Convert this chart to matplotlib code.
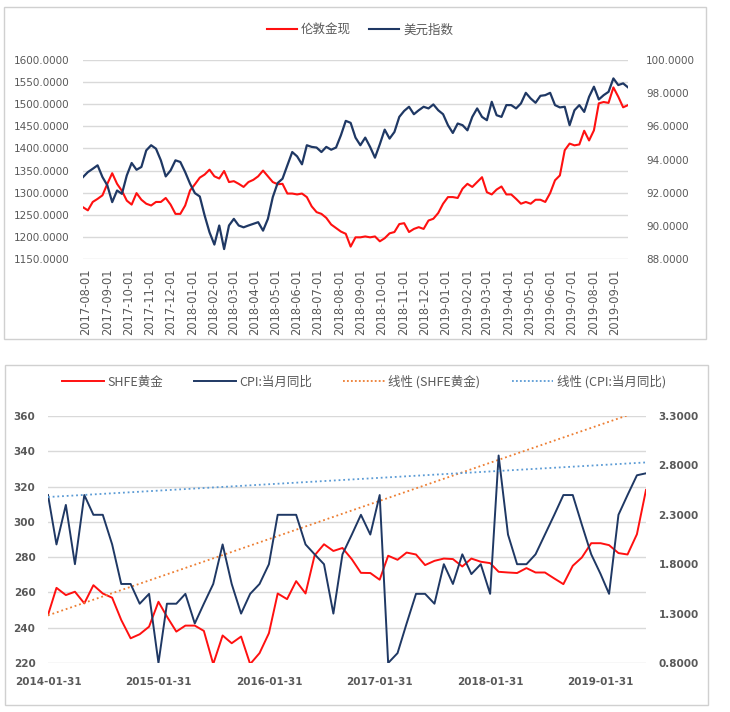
import matplotlib
matplotlib.use("Agg")
import matplotlib.pyplot as plt
from matplotlib.patches import Rectangle
from matplotlib.lines import Line2D
from matplotlib.ticker import FixedLocator, FuncFormatter
import pandas as pd

# ---------------- data: top chart (weekly readings) ----------------
top_start = "2017-07-28"
top_weeks = 113
gold_london = [1267, 1260, 1279, 1286, 1294, 1320, 1344, 1320, 1304, 1282,
               1273, 1299, 1284, 1275, 1271, 1279, 1279, 1288, 1273, 1252,
               1252, 1271, 1305, 1319, 1334, 1341, 1352, 1337, 1332, 1349,
               1324, 1326, 1320, 1313, 1324, 1329, 1337, 1350, 1337, 1324,
               1319, 1320, 1298, 1298, 1296, 1298, 1290, 1269, 1256, 1252,
               1243, 1228, 1220, 1212, 1207, 1178, 1199, 1199, 1201, 1199,
               1201, 1190, 1197, 1208, 1211, 1229, 1231, 1211, 1218, 1222,
               1218, 1237, 1241, 1254, 1275, 1290, 1290, 1288, 1309, 1320,
               1313, 1324, 1335, 1301, 1296, 1307, 1314, 1296, 1296, 1286,
               1275, 1279, 1275, 1284, 1284, 1279, 1299, 1328, 1339, 1396,
               1411, 1407, 1409, 1440, 1418, 1441, 1502, 1505, 1503, 1538,
               1517, 1493, 1498]
usd_index = [92.94, 93.24, 93.44, 93.65, 92.94, 92.44, 91.43, 92.13, 91.93, 93.04,
             93.79, 93.38, 93.55, 94.55, 94.86, 94.65, 93.95, 92.98, 93.34, 93.95,
             93.85, 93.24, 92.54, 91.97, 91.77, 90.62, 89.61, 88.87, 90.02, 88.60,
             90.02, 90.42, 90.02, 89.91, 90.02, 90.12, 90.22, 89.71, 90.42, 91.73,
             92.58, 92.84, 93.65, 94.45, 94.19, 93.71, 94.86, 94.76, 94.72, 94.45,
             94.76, 94.59, 94.72, 95.46, 96.33, 96.21, 95.32, 94.86, 95.32, 94.76,
             94.11, 94.92, 95.80, 95.26, 95.66, 96.57, 96.93, 97.18, 96.73, 96.97,
             97.18, 97.08, 97.32, 96.97, 96.73, 96.07, 95.60, 96.17, 96.07, 95.76,
             96.57, 97.08, 96.57, 96.37, 97.48, 96.67, 96.57, 97.28, 97.28, 97.08,
             97.38, 98.02, 97.68, 97.42, 97.84, 97.88, 98.02, 97.28, 97.14, 97.18,
             96.07, 96.97, 97.28, 96.87, 97.78, 98.39, 97.62, 97.88, 98.08, 98.89,
             98.49, 98.59, 98.35]
top_left_ticks = [1150, 1200, 1250, 1300, 1350, 1400, 1450, 1500, 1550, 1600]
top_right_ticks = [88, 90, 92, 94, 96, 98, 100]
top_month_ticks = pd.date_range("2017-08-01", "2019-09-01", freq="MS")

# ---------------- data: bottom chart (monthly) ----------------
bottom_months = pd.date_range("2014-01-31", "2019-06-30", freq="ME")
shfe_gold = [247.2, 262.6, 258.5, 260.4, 253.8, 264.1, 259.4, 257.0, 244.4, 234.0,
             236.3, 240.6, 254.7, 246.3, 237.8, 241.2, 241.2, 238.2, 219.4, 235.6,
             231.2, 235.0, 219.4, 225.6, 236.9, 259.4, 256.2, 266.4, 259.4, 281.0,
             287.3, 283.5, 285.2, 278.8, 271.1, 271.0, 267.2, 280.8, 278.5, 282.6,
             281.5, 275.5, 277.9, 279.2, 278.9, 274.7, 279.2, 277.4, 276.6, 271.7,
             271.3, 271.0, 273.8, 271.3, 271.3, 267.9, 264.7, 275.1, 279.8, 287.9,
             287.9, 286.8, 282.3, 281.5, 293.0, 318.1]
cpi_yoy = [2.5, 2.0, 2.4, 1.8, 2.5, 2.3, 2.3, 2.0, 1.6, 1.6,
           1.4, 1.5, 0.8, 1.4, 1.4, 1.5, 1.2, 1.4, 1.6, 2.0,
           1.6, 1.3, 1.5, 1.6, 1.8, 2.3, 2.3, 2.3, 2.0, 1.9,
           1.8, 1.3, 1.9, 2.1, 2.3, 2.1, 2.5, 0.8, 0.9, 1.2,
           1.5, 1.5, 1.4, 1.8, 1.6, 1.9, 1.7, 1.8, 1.5, 2.9,
           2.1, 1.8, 1.8, 1.9, 2.1, 2.3, 2.5, 2.5, 2.2, 1.9,
           1.7, 1.5, 2.3, 2.5, 2.7, 2.72]
gold_trend_ends = [247.0, 364.0]
cpi_trend_ends = [2.48, 2.83]
bottom_left_ticks = [220, 240, 260, 280, 300, 320, 340, 360]
bottom_right_ticks = [0.8, 1.3, 1.8, 2.3, 2.8, 3.3]
bottom_label_dates = pd.to_datetime(["2014-01-31", "2015-01-31", "2016-01-31",
                                     "2017-01-31", "2018-01-31", "2019-01-31"])

# ---------------- styling ----------------
RED = "#FF1010"
NAVY = "#1F3864"
ORANGE = "#ED7D31"
LBLUE = "#5B9BD5"
GRID = "#D9D9D9"
TXT = "#595959"
CJK = ["Noto Sans CJK SC", "DejaVu Sans"]

W, H = 730, 712
fig = plt.figure(figsize=(W / 100, H / 100), dpi=100)
fig.patch.set_facecolor("white")


def fx(px):
    return px / W


def fy(py):
    return 1 - py / H


# panel borders
for (x0, y0, x1, y1) in [(4, 7, 706, 339), (5, 365, 708, 705)]:
    fig.patches.append(Rectangle((fx(x0), fy(y1)), fx(x1) - fx(x0), fy(y0) - fy(y1),
                                 transform=fig.transFigure, fill=False,
                                 edgecolor="#D0D0D0", lw=1.0))


def style_axes(ax):
    for s in ax.spines.values():
        s.set_visible(False)
    ax.tick_params(length=0, colors=TXT, labelsize=7.5)


# ---------------- top chart ----------------
ax1 = fig.add_axes([fx(83), fy(259), fx(628) - fx(83), fy(60) - fy(259)])
ax1r = ax1.twinx()
top_dates = pd.date_range(top_start, periods=top_weeks, freq="7D")
ax1.plot(top_dates, gold_london, color=RED, lw=1.5, zorder=3)
ax1r.plot(top_dates, usd_index, color=NAVY, lw=1.6, zorder=3)
ax1.set_ylim(1150, 1600)
ax1r.set_ylim(88, 100)
ax1.set_xlim(pd.Timestamp("2017-07-28"), pd.Timestamp("2019-09-20"))
ax1.yaxis.set_major_locator(FixedLocator(top_left_ticks))
ax1r.yaxis.set_major_locator(FixedLocator(top_right_ticks))
ax1.yaxis.set_major_formatter(FuncFormatter(lambda v, p: f"{v:.4f}"))
ax1r.yaxis.set_major_formatter(FuncFormatter(lambda v, p: f"{v:.4f}"))
ax1.set_xticks(top_month_ticks)
ax1.set_xticklabels([d.strftime("%Y-%m-%d") for d in top_month_ticks], rotation=90)
ax1.grid(axis="y", color=GRID, lw=1.0)
ax1.set_axisbelow(True)
for a in (ax1, ax1r):
    style_axes(a)
ax1.tick_params(axis="y", pad=10)
ax1r.tick_params(axis="y", pad=13)
ax1.tick_params(axis="x", pad=7, labelsize=8.3)

leg1 = fig.legend(handles=[Line2D([], [], color=RED, lw=1.5),
                           Line2D([], [], color=NAVY, lw=1.5)],
                  labels=["伦敦金现", "美元指数"], loc="center",
                  bbox_to_anchor=(fx(360), fy(30)), ncol=2, frameon=False,
                  prop={"family": CJK, "size": 9}, handlelength=2.4,
                  handletextpad=0.3, columnspacing=1.5)
for t in leg1.get_texts():
    t.set_color(TXT)

# ---------------- bottom chart ----------------
ax2 = fig.add_axes([fx(48), fy(663), fx(646) - fx(48), fy(416) - fy(663)])
ax2r = ax2.twinx()
ax2.plot(bottom_months, shfe_gold, color=RED, lw=1.4, zorder=3)
ax2r.plot(bottom_months, cpi_yoy, color=NAVY, lw=1.4, zorder=3)
trend_x = [bottom_months[0], bottom_months[-1]]
ax2.plot(trend_x, gold_trend_ends, color=ORANGE, lw=1.3, ls=(0, (1, 1.6)), zorder=4)
ax2r.plot(trend_x, cpi_trend_ends, color=LBLUE, lw=1.3, ls=(0, (1, 1.6)), zorder=4)
ax2.set_ylim(220, 360)
ax2r.set_ylim(0.8, 3.3)
ax2.set_xlim(bottom_months[0], bottom_months[-1])
ax2.yaxis.set_major_locator(FixedLocator(bottom_left_ticks))
ax2r.yaxis.set_major_locator(FixedLocator(bottom_right_ticks))
ax2.yaxis.set_major_formatter(FuncFormatter(lambda v, p: f"{v:.0f}"))
ax2r.yaxis.set_major_formatter(FuncFormatter(lambda v, p: f"{v:.4f}"))
ax2.set_xticks(bottom_label_dates)
ax2.set_xticklabels([d.strftime("%Y-%m-%d") for d in bottom_label_dates])
ax2.grid(axis="y", color=GRID, lw=1.0)
ax2.set_axisbelow(True)
for a in (ax2, ax2r):
    style_axes(a)
    for lab in a.get_xticklabels() + a.get_yticklabels():
        lab.set_fontweight("bold")
ax2.tick_params(axis="y", pad=9)
ax2r.tick_params(axis="y", pad=9)
ax2.tick_params(axis="x", pad=10)

leg2 = fig.legend(handles=[Line2D([], [], color=RED, lw=1.4),
                           Line2D([], [], color=NAVY, lw=1.4),
                           Line2D([], [], color=ORANGE, lw=1.3, ls=(0, (1, 1.2))),
                           Line2D([], [], color=LBLUE, lw=1.3, ls=(0, (1, 1.2)))],
                  labels=["SHFE黄金", "CPI:当月同比", "线性 (SHFE黄金)", "线性 (CPI:当月同比)"],
                  loc="center", bbox_to_anchor=(fx(364), fy(382)), ncol=4,
                  frameon=False, prop={"family": CJK, "size": 9},
                  handlelength=3.3, handletextpad=0.3, columnspacing=2.5)
for t in leg2.get_texts():
    t.set_color(TXT)

fig.savefig("out.png", dpi=100, facecolor="white")
